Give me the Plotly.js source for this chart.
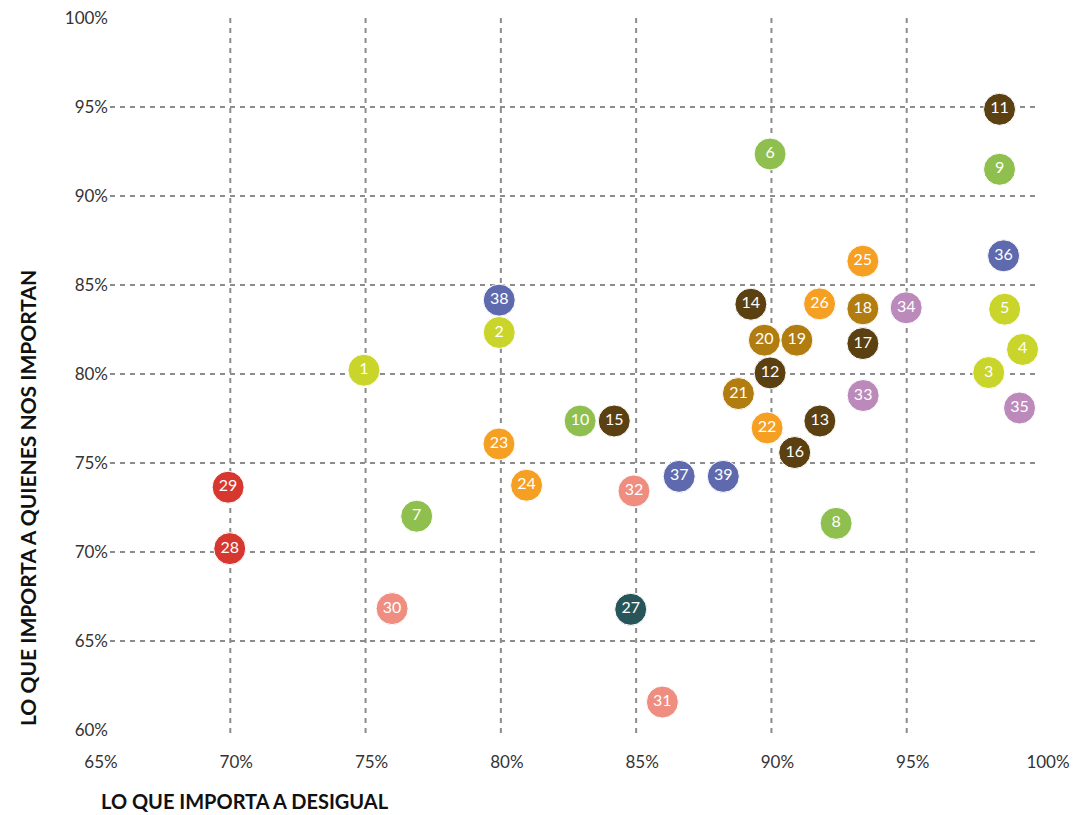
<!DOCTYPE html>
<html>
<head>
<meta charset="utf-8">
<script src="https://cdn.plot.ly/plotly-3.0.1.min.js"></script>
<style>html,body{margin:0;padding:0;background:#fff;}#chart{width:1074px;height:815px;}</style>
</head>
<body>
<div id="chart"></div>
<script>
// ---- data ----
const ids = [1,2,3,4,5,6,7,8,9,10,11,12,13,14,15,16,17,18,19,20,21,22,23,24,25,26,27,28,29,30,31,32,33,34,35,36,37,38,39];
const xVals = [74.94,79.94,98.03,99.28,98.62,89.95,76.89,92.39,98.43,82.93,98.43,89.95,91.79,89.24,84.19,90.86,93.38,93.38,90.94,89.74,88.78,89.84,79.93,80.95,93.38,91.78,84.80,69.98,69.92,75.98,85.97,84.92,93.39,94.98,99.17,98.58,86.59,79.94,88.22];
const yVals = [80.21,82.33,80.08,81.38,83.64,92.36,72.01,71.61,91.50,77.36,94.87,80.06,77.36,83.92,77.36,75.59,81.71,83.66,81.90,81.90,78.90,76.97,76.07,73.75,86.34,83.94,66.78,70.19,73.64,66.82,61.57,73.43,78.79,83.72,78.09,86.64,74.25,84.15,74.25];
const groups = ['A','A','A','A','A','B','B','B','B','B','C','C','C','C','C','C','C','D','D','D','D','E','E','E','E','E','F','G','G','H','H','H','I','I','I','J','J','J','J'];
const xTicks = [65,70,75,80,85,90,95,100];
const yTicks = [60,65,70,75,80,85,90,95,100];
const xGrid = [70,75,80,85,90,95];
const yGrid = [65,70,75,80,85,90,95];
const xTitle = 'LO QUE IMPORTA A DESIGUAL';
const yTitle = 'LO QUE IMPORTA A QUIENES NOS IMPORTAN';

// ---- styles ----
const palette = {A:'#c9d52b',B:'#8fc04f',C:'#5b4012',D:'#b17c10',E:'#f6a023',F:'#285559',G:'#d63830',H:'#ee8d80',I:'#bb8abb',J:'#5e69ae'};
const W = 1074, H = 815;
const M = {l:95, r:32, t:18, b:85};
const PW = W - M.l - M.r, PH = H - M.t - M.b;
const xPaper = px => (px - M.l) / PW;
const yPaper = py => (M.t + PH - py) / PH;
const gridStyle = {color:'#8c8c8c', width:2, dash:'5px,5px'};
const fontFam = 'Lato, "Open Sans", sans-serif';

// draw in reverse order so lower numbers sit on top
const order = ids.map((_, i) => i).reverse();
const trace = {
  type:'scatter', mode:'markers+text',
  x: order.map(i => xVals[i]),
  y: order.map(i => yVals[i]),
  text: order.map(i => String(ids[i])),
  textposition:'middle center',
  textfont:{family:fontFam, size:16, color:'#ffffff'},
  marker:{size:32, color: order.map(i => palette[groups[i]]), line:{color:'#ffffff', width:1}, opacity:1},
  hoverinfo:'skip', cliponaxis:false, showlegend:false
};

const shapes = [];
xGrid.forEach(v => shapes.push({type:'line', layer:'below', xref:'x', yref:'paper', x0:v, x1:v, y0:yPaper(733), y1:yPaper(15), line:gridStyle}));
yGrid.forEach(v => shapes.push({type:'line', layer:'below', xref:'paper', yref:'y', x0:xPaper(110), x1:xPaper(1036), y0:v, y1:v, line:gridStyle}));

const tickFont = {family:fontFam, size:17, color:'#333333'};
const layout = {
  width:W, height:H, margin:M,
  paper_bgcolor:'#ffffff', plot_bgcolor:'#ffffff',
  showlegend:false,
  xaxis:{range:[65,100], tickvals:xTicks, ticktext:xTicks.map(v => v + '%'), showgrid:false, zeroline:false, showline:false, ticks:'', tickfont:tickFont, ticklabelstandoff:20, ticklabelshift:6, fixedrange:true},
  yaxis:{range:[60,100], tickvals:yTicks, ticktext:yTicks.map(v => v + '%'), showgrid:false, zeroline:false, showline:false, ticks:'', tickfont:tickFont, ticklabelstandoff:-14, fixedrange:true},
  shapes: shapes,
  annotations:[
    {text:xTitle, xref:'paper', yref:'paper', x:xPaper(245), y:yPaper(801), xanchor:'center', yanchor:'middle', borderpad:0, showarrow:false, font:{family:fontFam, size:20, color:'#111111', weight:700}},
    {text:yTitle, xref:'paper', yref:'paper', x:xPaper(27), y:yPaper(498), xanchor:'center', yanchor:'middle', borderpad:0, textangle:-90, showarrow:false, font:{family:fontFam, size:21, color:'#111111', weight:700}}
  ]
};

Plotly.newPlot('chart', [trace], layout, {displayModeBar:false, staticPlot:true});
</script>
</body>
</html>
